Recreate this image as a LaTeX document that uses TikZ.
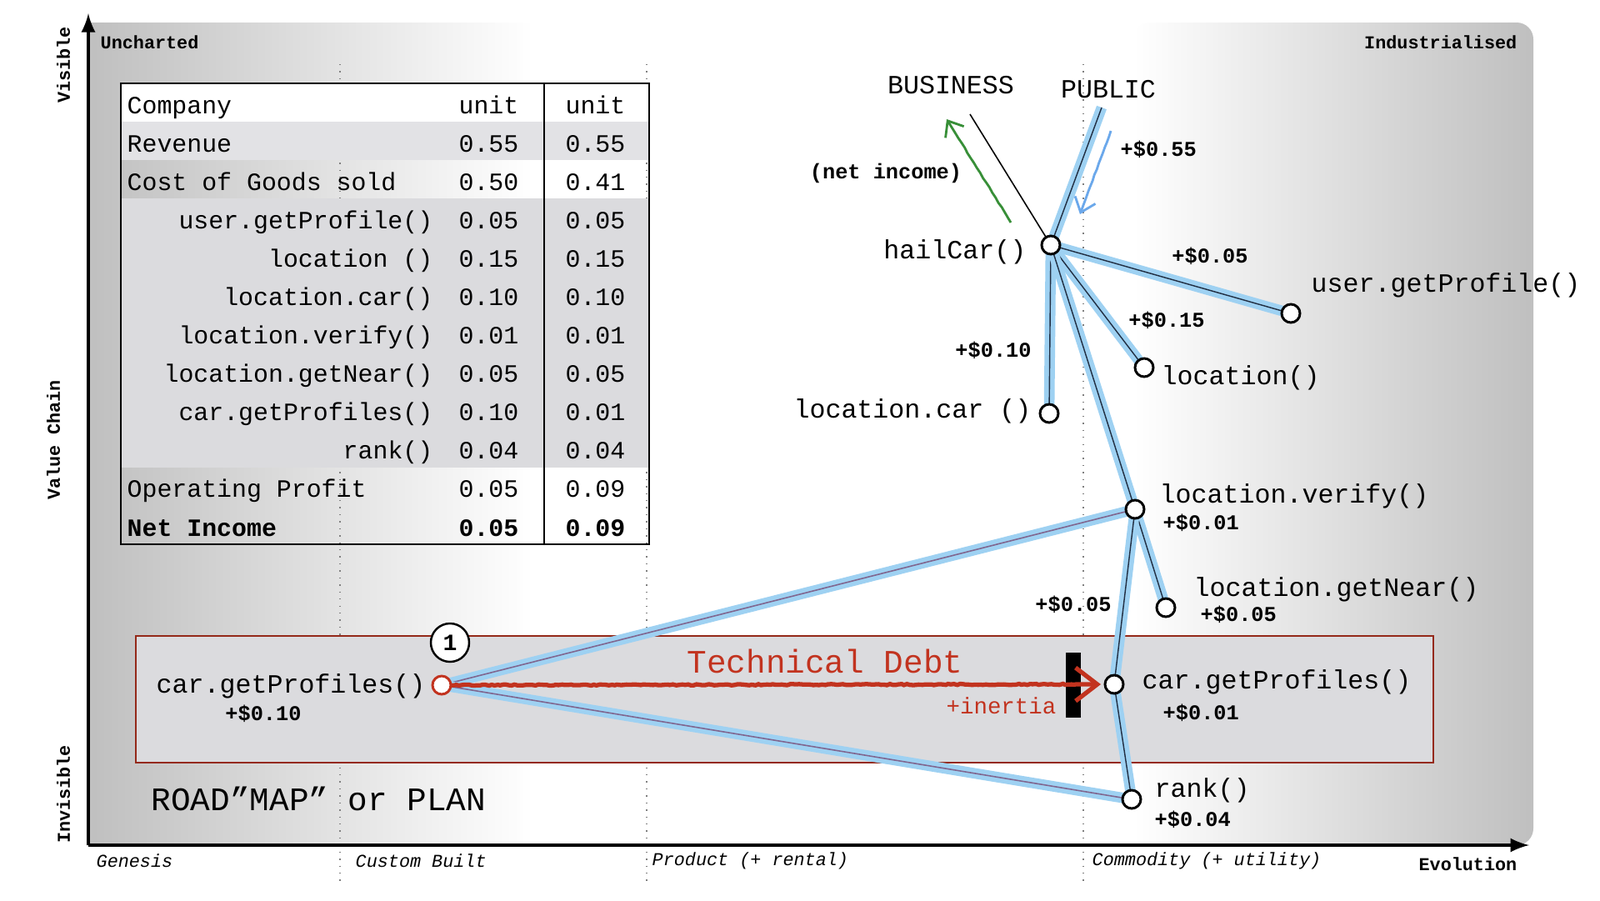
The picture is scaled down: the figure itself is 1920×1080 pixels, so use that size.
\documentclass[tikz,border=0pt]{standalone}
\usepackage{fontspec}
\setmonofont{Liberation Mono}
\usetikzlibrary{decorations.pathmorphing,calc,arrows.meta}
\definecolor{myblue}{rgb}{0.62,0.82,0.95}
\definecolor{myink}{rgb}{0.13,0.18,0.26}
\definecolor{mypurple}{rgb}{0.50,0.40,0.56}
\definecolor{myred}{rgb}{0.76,0.20,0.12}
\definecolor{myboxred}{rgb}{0.58,0.16,0.10}
\definecolor{mygreen}{rgb}{0.22,0.56,0.22}
\definecolor{mysky}{rgb}{0.42,0.66,0.92}
\definecolor{mygrey}{rgb}{0.75,0.75,0.75}
\definecolor{rowgrey}{rgb}{0.86,0.86,0.87}
\definecolor{revgrey}{rgb}{0.885,0.885,0.90}
\definecolor{boxgrey}{rgb}{0.86,0.86,0.87}

\tikzset{
  comp/.style={draw,circle,line width=0.85pt,fill=white,inner sep=0pt,minimum size=2.2mm},
  chain/.style={myink,line width=0.4pt,preaction={draw,myblue,line width=3.6pt}},
  oldchain/.style={mypurple,line width=0.45pt,preaction={draw,myblue,line width=3.6pt}},
  stagegrid/.style={gray,line width=0.4pt,dotted},
  fname/.style={font=\ttfamily\fontsize{9}{10}\selectfont,inner sep=0pt},
  cost/.style={font=\ttfamily\bfseries\fontsize{7.2}{8}\selectfont,inner sep=0pt},
  cell/.style={font=\ttfamily\fontsize{8.5}{10}\selectfont,inner sep=0pt,text height=1.9mm,text depth=0.5mm},
  corner/.style={font=\ttfamily\bfseries\fontsize{6.2}{7}\selectfont,inner sep=0pt},
  stage/.style={font=\ttfamily\itshape\fontsize{6.2}{7}\selectfont,inner sep=0pt,anchor=west},
  debt/.style={myred,line width=1.5pt,decorate,
    decoration={random steps,segment length=1pt,amplitude=0.2pt,post length=3mm},
    -{Straight Barb[length=2.6mm,width=4mm]}},
  hand/.style={line width=0.8pt,decorate,
    decoration={random steps,segment length=2pt,amplitude=0.15pt,post length=2mm},
    -{Straight Barb[length=1.6mm,width=2.6mm]}}
}

\begin{document}
\begin{tikzpicture}[x=0.1mm,y=-0.1mm]
    \useasboundingbox (0,0) rectangle (1920,1080);
    \coordinate (Origin)   at (106,1014);
    \coordinate (XAxisMax) at (1835,1014);
    \coordinate (YAxisMax) at (106,16);

    % map background
    \shade[left color=mygrey,right color=white] (106,27) rectangle (640,1014);
    \fill[white] (639,27) rectangle (1380,1014);
    \shade[left color=white,right color=mygrey,rounded corners=2mm]
      (1360,27) -- (1840,27) -- (1840,1014) -- (1360,1014) -- cycle;
    \foreach \x in {408,776,1300}{% evolution stages
      \draw[stagegrid] (\x,77) -- (\x,1060);
    }

    % unit cost table
    \fill[white]   (145,100) rectangle (779,146);
    \fill[revgrey] (145,146) rectangle (779,192);
    \fill[rowgrey] (145,238) rectangle (779,561);
    \draw[line width=0.7pt] (145,100) rectangle (779,653);
    \draw[line width=0.7pt] (653,100) -- (653,653);
    \foreach \txt/\a/\b/\r in {Company/unit/unit/0, Revenue/0.55/0.55/1,
        Cost of Goods sold/0.50/0.41/2, Operating Profit/0.05/0.09/10}{
      \node[cell,anchor=west] (lab\r) at (152,{129+46.08*\r}) {\txt};
      \node[cell,anchor=east] (one\r) at (623,{129+46.08*\r}) {\a};
      \node[cell,anchor=east] (two\r) at (751,{129+46.08*\r}) {\b};
    }
    \foreach \txt/\a/\b [count=\r from 3] in {user.getProfile()/0.05/0.05,
        location ()/0.15/0.15, location.car()/0.10/0.10, location.verify()/0.01/0.01,
        location.getNear()/0.05/0.05, car.getProfiles()/0.10/0.01, rank()/0.04/0.04}{
      \node[cell,anchor=east] (lab\r) at (520,{129+46.08*\r}) {\txt};
      \node[cell,anchor=east] (one\r) at (623,{129+46.08*\r}) {\a};
      \node[cell,anchor=east] (two\r) at (751,{129+46.08*\r}) {\b};
    }
    \node[cell,font=\ttfamily\bfseries\fontsize{8.5}{10}\selectfont,anchor=west] (lab11) at (152,636) {Net Income};
    \node[cell,font=\ttfamily\bfseries\fontsize{8.5}{10}\selectfont,anchor=east] (one11) at (623,636) {0.05};
    \node[cell,font=\ttfamily\bfseries\fontsize{8.5}{10}\selectfont,anchor=east] (two11) at (751,636) {0.09};

    % road map box
    \draw[myboxred,line width=0.6pt,fill=boxgrey] (163,763) rectangle (1720,915);

    % axes
    \draw[line width=1.2pt,-latex] (Origin) -- (YAxisMax);
    \draw[line width=1.2pt,-latex] (Origin) -- (XAxisMax);

    % value chain
    \coordinate (pHail)     at (1261,294);
    \coordinate (pUser)     at (1549,376);
    \coordinate (pLoc)      at (1373,441);
    \coordinate (pLocCar)   at (1259,496);
    \coordinate (pVerify)   at (1362,611);
    \coordinate (pNear)     at (1399,729);
    \coordinate (pCarNew)   at (1337,821);
    \coordinate (pRank)     at (1358,959);
    \coordinate (pCarOld)   at (530,822);
    \coordinate (pPublic)   at (1322,129);
    \coordinate (pBusiness) at (1164,137);
    \coordinate (debtEnd)   at (1321,821);
    \coordinate (gTail) at (1213,267);
    \coordinate (gTip)  at (1136,143);
    \coordinate (bTail) at (1333,157);
    \coordinate (bTip)  at (1296,257);

    \draw[chain] (pHail) -- (pPublic);
    \draw[line width=0.45pt] (pHail) -- (pBusiness);
    \foreach \to in {pUser,pLoc,pLocCar,pVerify}{
      \draw[chain] (pHail) -- (\to);
    }
    \draw[chain] (pVerify) -- (pNear);
    \draw[chain] (pVerify) -- (pCarNew);
    \draw[chain] (pCarNew) -- (pRank);
    \draw[oldchain] (pCarOld) -- (pVerify);
    \draw[oldchain] (pCarOld) -- (pRank);

    \node[fill=black,inner sep=0pt,minimum width=1.8mm,minimum height=7.8mm] (inertia) at (1288,822) {};
    \draw[debt] (pCarOld) -- (debtEnd);
    \draw[hand,mygreen] (gTail) -- (gTip);
    \draw[hand,mysky] (bTail) -- (bTip);

    \foreach \p/\n in {pHail/hailCar, pUser/userProfile, pLoc/location, pLocCar/locationCar,
        pVerify/verify, pNear/getNear, pCarNew/carNew, pRank/rank}{
      \node[comp] (\n) at (\p) {};
    }
    \node[comp,draw=myred] (carOld) at (pCarOld) {};
    \node[draw,circle,line width=0.7pt,fill=white,minimum size=4.6mm,inner sep=0pt,
      font=\ttfamily\bfseries\fontsize{8}{9}\selectfont] (marker1) at (540,771) {1};

    % labels
    \node[fname] (business) at (1141,102) {BUSINESS};
    \node[fname] (public) at (1330,107) {PUBLIC};
    \node[cost,anchor=west] (c55) at (1344,179) {+\$0.55};
    \node[cost] (netinc) at (1063,208) {(net income)};
    \node[fname,anchor=east] (lHail) at (1232,302) {hailCar()};
    \node[cost] (c05a) at (1452,307) {+\$0.05};
    \node[fname,anchor=west] (lUser) at (1573,342) {user.getProfile()};
    \node[cost] (c15) at (1400,384) {+\$0.15};
    \node[fname,anchor=west] (lLoc) at (1393,453) {location()};
    \node[cost] (c10a) at (1192,420) {+\$0.10};
    \node[fname,anchor=east] (lLocCar) at (1238,493) {location.car ()};
    \node[fname,anchor=west] (lVerify) at (1391,595) {location.verify()};
    \node[cost,anchor=west] (c01a) at (1395,627) {+\$0.01};
    \node[cost] (c05b) at (1288,725) {+\$0.05};
    \node[fname,anchor=west] (lNear) at (1432,707) {location.getNear()};
    \node[cost,anchor=west] (c05c) at (1440,737) {+\$0.05};
    \node[fname,anchor=west] (lCarNew) at (1370,818) {car.getProfiles()};
    \node[cost,anchor=west] (c01b) at (1395,855) {+\$0.01};
    \node[fname,anchor=west] (lRank) at (1385,948) {rank()};
    \node[cost,anchor=west] (c04) at (1385,983) {+\$0.04};
    \node[fname,anchor=west] (lCarOld) at (187,823) {car.getProfiles()};
    \node[cost] (c10b) at (316,856) {+\$0.10};
    \node[font=\ttfamily\fontsize{11.2}{12}\selectfont,text=myred,inner sep=0pt] (debtlbl) at (990,793) {Technical Debt};
    \node[font=\ttfamily\fontsize{7.8}{9}\selectfont,text=myred,inner sep=0pt,anchor=east] (inertialbl) at (1268,847) {+inertia};
    \node[font=\ttfamily\fontsize{11.2}{12}\selectfont,inner sep=0pt,anchor=west] (roadmap) at (181,958) {ROAD”MAP” or PLAN};

    % map corners and axis names
    \node[corner,anchor=west] (uncharted) at (120,51) {Uncharted};
    \node[corner,anchor=east] (industrial) at (1821,51) {Industrialised};
    \node[corner,rotate=90] (visible) at (76,78) {Visible};
    \node[corner,rotate=90] (valuechain) at (64,528) {Value Chain};
    \node[corner,rotate=90] (invisible) at (76,953) {Invisible};
    \node[stage] (genesis) at (115,1033) {Genesis};
    \node[stage] (custom) at (426,1033) {Custom Built};
    \node[stage] (product) at (782,1033) {Product (+ rental)};
    \node[stage] (commodity) at (1310,1033) {Commodity (+ utility)};
    \node[corner,anchor=east] (evolution) at (1821,1037) {Evolution};
\end{tikzpicture}
\end{document}
